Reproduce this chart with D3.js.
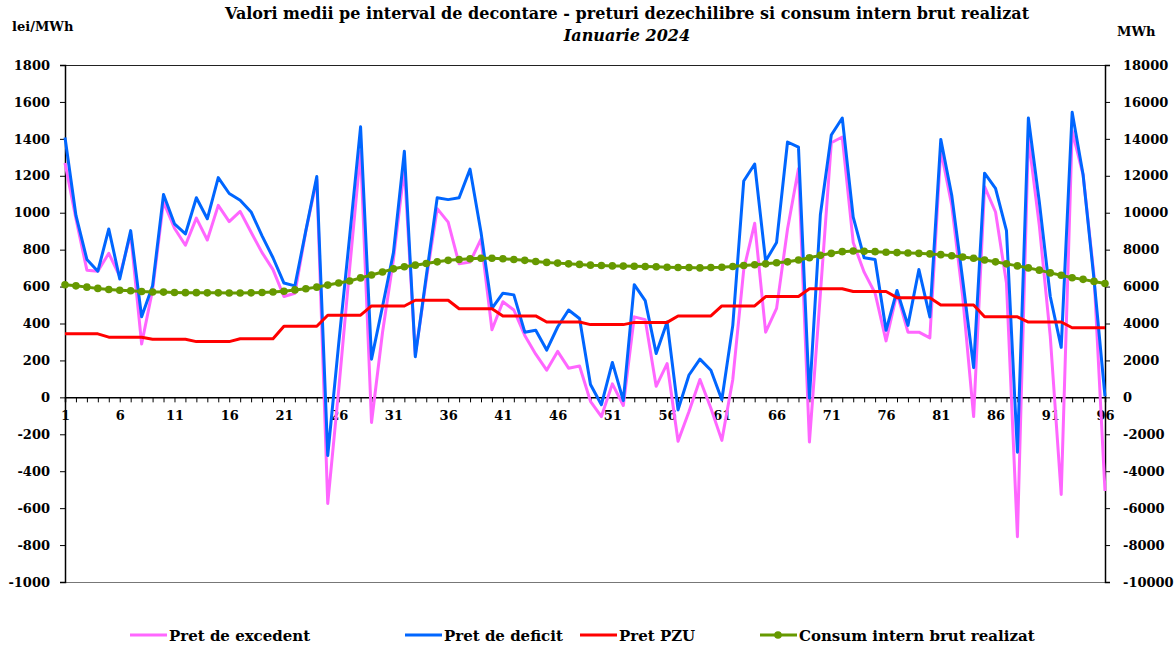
<!DOCTYPE html>
<html>
<head>
<meta charset="utf-8">
<script src="https://cdn.jsdelivr.net/npm/d3@7/dist/d3.min.js"></script>
<style>
  body { margin: 0; background: #fff; }
  svg text { font-family: "DejaVu Serif", serif; font-weight: bold; fill: #000; }
</style>
</head>
<body>
<div id="chart-area"></div>
<script>
// intervale de decontare 1..96
var intervals = d3.range(1, 97);
var xTickLabels = [1, 6, 11, 16, 21, 26, 31, 36, 41, 46, 51, 56, 61, 66, 71, 76, 81, 86, 91, 96];
var leftTicks = [-1000, -800, -600, -400, -200, 0, 200, 400, 600, 800, 1000, 1200, 1400, 1600, 1800];
var rightTicks = [-10000, -8000, -6000, -4000, -2000, 0, 2000, 4000, 6000, 8000, 10000, 12000, 14000, 16000, 18000];

var pretExcedent = [
	1269, 967, 689, 683, 780, 656, 885, 289, 582, 1059,
	916, 824, 971, 852, 1040, 952, 1007, 894, 784, 692,
	546, 564, 900, 1180, -575, 40, 697, 1332, -136, 350,
	747, 1240, 230, 637, 1022, 949, 723, 733, 857, 366,
	518, 473, 335, 234, 147, 249, 158, 170, -22, -104,
	73, -44, 436, 421, 60, 183, -238, -77, 97, -59,
	-233, 97, 692, 943, 353, 482, 912, 1238, -242, 560,
	1379, 1410, 839, 678, 564, 306, 564, 353, 353, 322,
	1340, 1040, 546, -104, 1141, 1004, 619, -755, 1407, 930,
	330, -526, 1443, 1205, 656, -507
];
var pretDeficit = [
	1407, 985, 747, 683, 912, 641, 903, 436, 604, 1099,
	940, 885, 1081, 967, 1190, 1104, 1068, 1004, 875, 756,
	619, 604, 903, 1196, -315, 290, 870, 1465, 207, 491,
	784, 1333, 220, 656, 1081, 1071, 1081, 1236, 894, 482,
	564, 555, 353, 363, 256, 381, 473, 427, 70, -40,
	189, -18, 610, 524, 238, 408, -68, 121, 207, 147,
	-13, 390, 1172, 1264, 738, 839, 1383, 1355, -4, 989,
	1421, 1513, 976, 756, 747, 363, 579, 390, 692, 436,
	1397, 1095, 637, 161, 1214, 1132, 903, -297, 1513, 1059,
	546, 271, 1544, 1205, 637, 5
];
var pretPZU = [
	344, 344, 344, 344, 326, 326, 326, 326, 315, 315,
	315, 315, 302, 302, 302, 302, 317, 317, 317, 317,
	385, 385, 385, 385, 445, 445, 445, 445, 495, 495,
	495, 495, 526, 526, 526, 526, 480, 480, 480, 480,
	441, 441, 441, 441, 408, 408, 408, 408, 394, 394,
	394, 394, 406, 406, 406, 406, 441, 441, 441, 441,
	495, 495, 495, 495, 546, 546, 546, 546, 588, 588,
	588, 588, 573, 573, 573, 573, 540, 540, 540, 540,
	500, 500, 500, 500, 436, 436, 436, 436, 408, 408,
	408, 408, 377, 377, 377, 377
];
var consumBrut = [
	6100, 6040, 5970, 5900, 5840, 5800, 5770, 5730, 5710, 5700,
	5680, 5670, 5670, 5660, 5660, 5650, 5650, 5660, 5680, 5710,
	5750, 5820, 5880, 5970, 6080, 6190, 6300, 6470, 6630, 6790,
	6960, 7070, 7160, 7250, 7340, 7420, 7470, 7510, 7530, 7530,
	7510, 7470, 7420, 7360, 7310, 7270, 7230, 7200, 7160, 7140,
	7120, 7110, 7100, 7090, 7070, 7050, 7030, 7030, 7010, 7030,
	7050, 7090, 7140, 7180, 7230, 7290, 7340, 7440, 7560, 7690,
	7800, 7890, 7930, 7910, 7890, 7860, 7840, 7820, 7800, 7770,
	7730, 7670, 7600, 7530, 7440, 7340, 7230, 7120, 7010, 6890,
	6740, 6610, 6480, 6390, 6280, 6170
];

var W = 1176, H = 650;
var plotLeft = 65, plotRight = 1105, plotTop = 65, plotBottom = 582;

var svg = d3.select('#chart-area')
	.append('svg')
		.attr('width', W)
		.attr('height', H);

var x = d3.scalePoint()
	.domain(intervals)
	.range([plotLeft, plotRight]);

var y = d3.scaleLinear()
	.domain([-1000, 1800])
	.range([plotBottom, plotTop]);

var y2 = d3.scaleLinear()
	.domain([-10000, 18000])
	.range([plotBottom, plotTop]);

// chenar zona grafic
svg.append('line').attr('x1', plotLeft).attr('x2', plotRight).attr('y1', plotTop + 0.5).attr('y2', plotTop + 0.5)
	.attr('stroke', '#222').attr('stroke-width', 1);
svg.append('line').attr('x1', plotLeft).attr('x2', plotRight).attr('y1', plotBottom + 0.5).attr('y2', plotBottom + 0.5)
	.attr('stroke', '#777').attr('stroke-width', 1);

function styleAxis(g) {
	g.select('.domain').attr('stroke', '#000').attr('stroke-width', 1.5);
	g.selectAll('.tick line').attr('stroke', '#000');
	g.selectAll('text')
		.attr('font-size', '13px')
		.attr('font-family', '"DejaVu Serif", serif')
		.attr('font-weight', 'bold');
}

// axa stanga
svg.append('g')
	.attr('transform', 'translate(' + plotLeft + ',0)')
	.call(d3.axisLeft(y).tickValues(leftTicks).tickSize(5).tickPadding(10).tickFormat(d => d))
	.call(styleAxis);

// axa dreapta
svg.append('g')
	.attr('transform', 'translate(' + plotRight + ',0)')
	.call(d3.axisRight(y2).tickValues(rightTicks).tickSize(5).tickPadding(13).tickFormat(d => d))
	.call(styleAxis);

// axa x pe linia de zero
svg.append('g')
	.attr('transform', 'translate(0,' + y(0) + ')')
	.call(d3.axisBottom(x).tickSize(5).tickPadding(8)
		.tickFormat(d => xTickLabels.indexOf(d) >= 0 ? d : ''))
	.call(styleAxis);

// serii
var series = [
	{ name: 'Pret de excedent', values: pretExcedent, color: '#ff66ff', scale: y },
	{ name: 'Pret de deficit', values: pretDeficit, color: '#0066ff', scale: y },
	{ name: 'Pret PZU', values: pretPZU, color: '#ff0000', scale: y },
	{ name: 'Consum intern brut realizat', values: consumBrut, color: '#669900', scale: y2 }
];

series.forEach(s => {
	var line = d3.line()
		.x((d, i) => x(intervals[i]))
		.y(d => s.scale(d));
	svg.append('path')
		.datum(s.values)
		.attr('fill', 'none')
		.attr('stroke', s.color)
		.attr('stroke-width', 3)
		.attr('stroke-linejoin', 'round')
		.attr('d', line);
});

svg.append('g').selectAll('circle')
	.data(consumBrut)
	.enter().append('circle')
		.attr('cx', (d, i) => x(intervals[i]))
		.attr('cy', d => y2(d))
		.attr('r', 3.8)
		.attr('fill', '#669900');

// titluri
svg.append('text')
	.attr('x', 627).attr('y', 19)
	.attr('text-anchor', 'middle')
	.attr('font-size', '16px')
	.text('Valori medii pe interval de decontare - preturi dezechilibre si consum intern brut realizat');

svg.append('text')
	.attr('x', 627).attr('y', 41)
	.attr('text-anchor', 'middle')
	.attr('font-size', '16px')
	.attr('font-style', 'italic')
	.text('Ianuarie 2024');

svg.append('text')
	.attr('x', 12).attr('y', 31)
	.attr('font-size', '13px')
	.text('lei/MWh');

svg.append('text')
	.attr('x', 1117).attr('y', 36)
	.attr('font-size', '13px')
	.text('MWh');

// legenda
var legendX = [130, 405, 580, 760];
var legend = svg.append('g').selectAll('g')
	.data(series)
	.enter().append('g')
		.attr('transform', (d, i) => 'translate(' + legendX[i] + ',635)');

legend.append('line')
	.attr('x1', 0).attr('x2', 37)
	.attr('stroke', d => d.color)
	.attr('stroke-width', 3);

legend.filter(d => d.scale === y2).append('circle')
	.attr('cx', 18).attr('r', 3.8)
	.attr('fill', d => d.color);

legend.append('text')
	.attr('x', 39).attr('y', 6)
	.attr('font-size', '15px')
	.text(d => d.name);
</script>
</body>
</html>
